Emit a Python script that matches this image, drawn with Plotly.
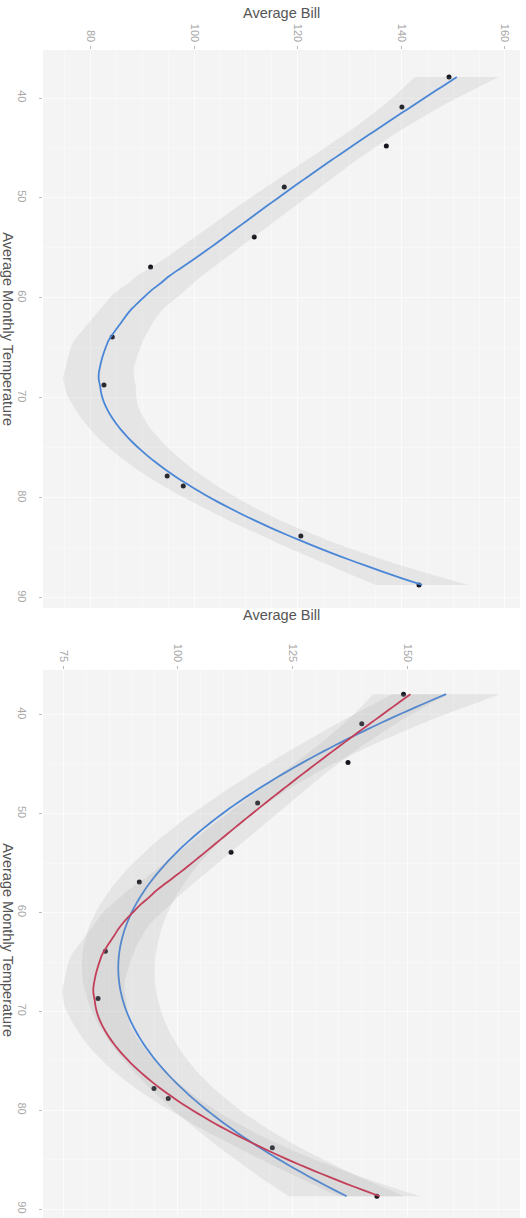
import numpy as np
import plotly.graph_objects as go

# ---- data ----
temps = [37.9, 40.9, 44.8, 48.9, 53.9, 56.9, 63.9, 68.7, 77.8, 78.8, 83.8, 88.7]
bills = [149.2, 140.1, 137.1, 117.4, 111.6, 91.6, 84.2, 82.6, 94.8, 97.9, 120.6, 143.4]

top_bill_ticks = [80, 100, 120, 140, 160]
bottom_bill_ticks = [75, 100, 125, 150]
temp_ticks = [40, 50, 60, 70, 80, 90]

x_title = "Average Bill"
y_title = "Average Monthly Temperature"

BLUE = "#4a86d6"
RED = "#c23f5a"
RIBBON = "rgba(150,150,150,0.15)"
POINT = "#16161f"


def t975(df):
    z = 1.959964
    return (z + (z**3 + z) / (4 * df) + (5 * z**5 + 16 * z**3 + 3 * z) / (96 * df**2)
            + (3 * z**7 + 19 * z**5 + 17 * z**3 - 15 * z) / (384 * df**3))


def loess(x, y, xs, span=0.75):
    n = len(x)
    q = int(np.floor(n * span))

    def row(x0):
        d = np.abs(x - x0)
        h = np.sort(d)[q - 1] * 1.0001
        w = np.clip(1 - (d / h) ** 3, 0, None) ** 3
        X = np.vstack([np.ones(n), x - x0, (x - x0) ** 2]).T
        XtW = X.T * w
        A = np.linalg.solve(XtW @ X, XtW)
        return A[0]

    L = np.array([row(v) for v in x])
    Ls = np.array([row(v) for v in xs])
    fit = Ls @ y
    I = np.eye(n)
    M = (I - L).T @ (I - L)
    d1 = np.trace(M)
    d2 = np.trace(M @ M)
    sigma = np.sqrt(np.sum(((I - L) @ y) ** 2) / d1)
    se = sigma * np.sqrt(np.sum(Ls ** 2, axis=1))
    df = d1 ** 2 / d2
    return fit, se * t975(df)


def quad(x, y, xs):
    m = x.mean()
    X = np.vstack([np.ones_like(x), x - m, (x - m) ** 2]).T
    Xs = np.vstack([np.ones_like(xs), xs - m, (xs - m) ** 2]).T
    beta, *_ = np.linalg.lstsq(X, y, rcond=None)
    res = y - X @ beta
    df = len(x) - 3
    sigma = np.sqrt(np.sum(res ** 2) / df)
    XtXi = np.linalg.inv(X.T @ X)
    se = sigma * np.sqrt(np.einsum("ij,jk,ik->i", Xs, XtXi, Xs))
    return Xs @ beta, se * t975(df)


tx = np.array(temps, float)
by = np.array(bills, float)
grid = np.linspace(tx.min(), tx.max(), 80)

lo_fit, lo_ci = loess(tx, by, grid)
q_fit, q_ci = quad(tx, by, grid)

fig = go.Figure()


def add_smooth(fit, ci, color, xa, ya):
    fig.add_trace(go.Scatter(
        x=np.concatenate([fit - ci, (fit + ci)[::-1]]),
        y=np.concatenate([grid, grid[::-1]]),
        fill="toself", fillcolor=RIBBON, line=dict(width=0),
        mode="lines", hoverinfo="skip", showlegend=False, xaxis=xa, yaxis=ya))
    fig.add_trace(go.Scatter(x=fit, y=grid, mode="lines",
                             line=dict(color=color, width=1.8, shape="spline", smoothing=0.6),
                             showlegend=False, xaxis=xa, yaxis=ya))


def add_points(xa, ya):
    fig.add_trace(go.Scatter(x=bills, y=temps, mode="markers",
                             marker=dict(color=POINT, size=5),
                             showlegend=False, xaxis=xa, yaxis=ya))


# top panel
add_points("x", "y")
add_smooth(lo_fit, lo_ci, BLUE, "x", "y")

# bottom panel
add_points("x2", "y2")
add_smooth(q_fit, q_ci, BLUE, "x2", "y2")
add_smooth(lo_fit, lo_ci, RED, "x2", "y2")

FONT = "Liberation Sans, Arial, sans-serif"
tickfont = dict(family=FONT, size=11, color="#a8a8a8")

common_x = dict(side="top", tickangle=90, ticks="outside", ticklen=3, tickcolor="#bbbbbb",
                showgrid=True, gridcolor="#fbfbfb", gridwidth=1, zeroline=False,
                showline=False, tickfont=tickfont, automargin=False,
                minor=dict(showgrid=True, gridcolor="#f8f8f8", gridwidth=0.6))
common_y = dict(tickangle=90, ticks="outside", ticklen=3, tickcolor="#bbbbbb",
                showgrid=True, gridcolor="#fbfbfb", gridwidth=1, zeroline=False,
                showline=False, tickfont=tickfont, tickvals=temp_ticks,
                ticklabelstandoff=8, automargin=False,
                minor=dict(showgrid=True, gridcolor="#f8f8f8", gridwidth=0.6))

fig.update_layout(
    width=526, height=1218,
    margin=dict(l=43, r=6, t=50, b=0),
    paper_bgcolor="white", plot_bgcolor="#f4f4f4",
    showlegend=False,
    xaxis=dict(domain=[0, 1], anchor="y", range=[70.83, 162.9],
               tickvals=top_bill_ticks, **common_x),
    yaxis=dict(domain=[0.5223, 1], anchor="x", range=[91.0, 35.2], **common_y),
    xaxis2=dict(domain=[0, 1], anchor="y2", range=[70.6, 174.6],
                tickvals=bottom_bill_ticks, **common_x),
    yaxis2=dict(domain=[0, 0.4692], anchor="x2", range=[90.9, 35.45], **common_y),
)

title_font = dict(family=FONT, size=14.5, color="#555555")
for ypos in [1.0317, 0.5163]:
    fig.add_annotation(text=x_title, xref="paper", yref="paper", x=0.5, y=ypos,
                       xanchor="center", yanchor="middle", showarrow=False, font=title_font)
for ypos in [0.7611, 0.238]:
    fig.add_annotation(text=y_title, xref="paper", yref="paper", x=-0.074, y=ypos,
                       xanchor="center", yanchor="middle", showarrow=False,
                       textangle=90, font=title_font)

fig.write_html(
    "out.html",
    config={"displayModeBar": False},
    post_script="document.body.style.margin='0px';document.body.style.overflow='hidden';",
)
